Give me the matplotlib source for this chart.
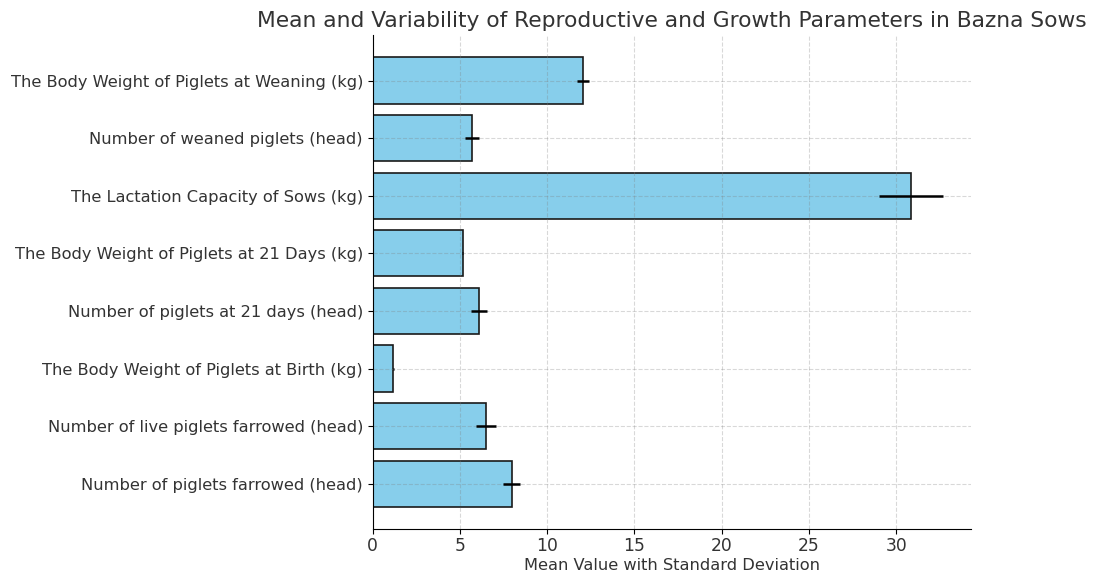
import matplotlib.pyplot as plt

# Parameters (bottom to top, as drawn by barh)
parameters = [
    'Number of piglets farrowed (head)',
    'Number of live piglets farrowed (head)',
    'The Body Weight of Piglets at Birth (kg)',
    'Number of piglets at 21 days (head)',
    'The Body Weight of Piglets at 21 Days (kg)',
    'The Lactation Capacity of Sows (kg)',
    'Number of weaned piglets (head)',
    'The Body Weight of Piglets at Weaning (kg)',
]
means = [7.97, 6.49, 1.19, 6.11, 5.15, 30.83, 5.69, 12.06]
std_devs = [0.50, 0.57, 0.05, 0.46, 0.05, 1.82, 0.38, 0.35]

text_color = '#333333'

fig = plt.figure(figsize=(10.96, 5.74), dpi=100)
ax = fig.add_axes([0.340, 0.078, 0.546, 0.861])

ax.barh(parameters, means, xerr=std_devs, color='skyblue', edgecolor='#1a1a1a',
        linewidth=1.2, height=0.8,
        error_kw=dict(ecolor='black', elinewidth=1.8, capsize=0))

ax.set_xlabel('Mean Value with Standard Deviation', fontsize=11.7,
              color=text_color, labelpad=2.5)
ax.set_title('Mean and Variability of Reproductive and Growth Parameters in Bazna Sows',
             fontsize=15.7, color=text_color)
ax.tick_params(axis='both', labelsize=11.7, labelcolor=text_color)
ax.tick_params(axis='x', labelsize=12.3, pad=2)
ax.grid(True, linestyle='--', color='gray', alpha=0.3, linewidth=0.8)
ax.spines['top'].set_visible(False)
ax.spines['right'].set_visible(False)

plt.savefig('out.png', dpi=100)
